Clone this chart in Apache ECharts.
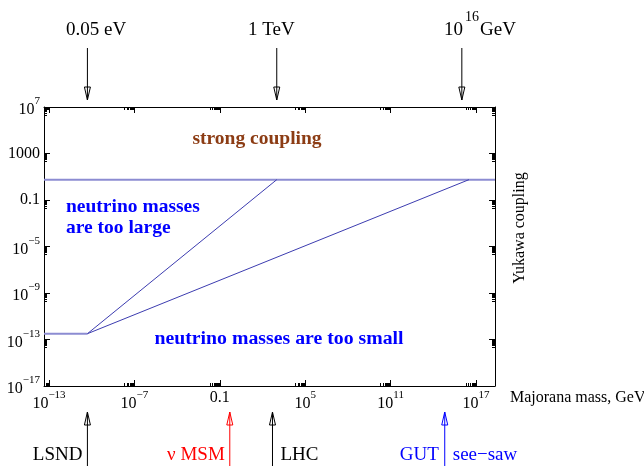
<!DOCTYPE html>
<html>
<head>
<meta charset="utf-8">
<script src="https://cdn.jsdelivr.net/npm/echarts@6/dist/echarts.min.js"></script>
<style>
  html, body { margin: 0; padding: 0; background: #fff; }
  #main { width: 644px; height: 466px; }
</style>
</head>
<body>
<div id="main"></div>
<script>
// values are log10 exponents: x = Majorana mass in GeV, y = Yukawa coupling
var xRange = [-13.35, 18.33];
var yRange = [-17, 7];
var xTicks = [-13, -7, -1, 5, 11, 17];
var yTicks = [-17, -13, -9, -5, -1, 3, 7];

var strongLine = [[-13.35, 0.75], [18.33, 0.75]];
var smallLine = [[-13.35, -12.5], [-10.3, -12.5]];
var largeEdge = [[-10.3, -12.5], [3, 0.75]];
var seesawEdge = [[-10.3, -12.5], [16.5, 0.75]];

var topMarks = [-10.3, 3, 16];            // 0.05 eV, 1 TeV, 10^16 GeV
var bottomMarks = [-10.3, -0.3, 2.7, 14.8]; // LSND, nuMSM, LHC, GUT

var SERIF = '"Liberation Serif", "DejaVu Serif", serif';

// log sub-ticks (2..9) of the decade under each labelled tick
function minorOf(ticks) {
  var out = [];
  ticks.forEach(function (t) {
    for (var k = 2; k <= 9; k++) out.push(t - 1 + Math.log10(k));
  });
  return out;
}
var xMinor = minorOf(xTicks);
var yMinor = minorOf(yTicks);

function expLabel(v) {
  if (v === -1) return '0.1';
  if (v === 3) return '1000';
  return '{b|10}{s|' + String(v).replace('-', '\u2212') + '}';
}
var labelRich = {
  b: { fontSize: 16, fontFamily: SERIF, color: '#000', lineHeight: 22, verticalAlign: 'bottom' },
  s: { fontSize: 11, fontFamily: SERIF, color: '#000', lineHeight: 12, verticalAlign: 'top' }
};

function majorAxis(pos, ticks, showLabel) {
  return {
    type: 'value', gridIndex: 0, position: pos,
    axisLine: { show: true, onZero: false, lineStyle: { color: '#000', width: 1 } },
    axisTick: { show: true, inside: true, length: 6, customValues: ticks, lineStyle: { color: '#000' } },
    axisLabel: {
      show: showLabel, customValues: ticks, formatter: expLabel, rich: labelRich,
      fontSize: 16, fontFamily: SERIF, color: '#000', margin: 4
    },
    splitLine: { show: false }
  };
}
function minorAxis(pos, ticks) {
  return {
    type: 'value', gridIndex: 1, position: pos,
    axisLine: { show: false, onZero: false },
    axisTick: { show: true, inside: true, length: 3, customValues: ticks, lineStyle: { color: '#000' } },
    axisLabel: { show: false },
    splitLine: { show: false }
  };
}

var xAxes = [majorAxis('bottom', xTicks, true), majorAxis('top', xTicks, false),
             minorAxis('bottom', xMinor), minorAxis('top', xMinor)];
var yAxes = [majorAxis('left', yTicks, true), majorAxis('right', yTicks, false),
             minorAxis('left', yMinor), minorAxis('right', yMinor)];
xAxes.forEach(function (a) { a.min = xRange[0]; a.max = xRange[1]; });
yAxes.forEach(function (a) { a.min = yRange[0]; a.max = yRange[1]; a.interval = 4; });

function edge(data, color, width) {
  return {
    type: 'line', data: data, xAxisIndex: 0, yAxisIndex: 0,
    showSymbol: false, silent: true,
    lineStyle: { color: color, width: width }
  };
}

var chart = echarts.init(document.getElementById('main'));
chart.setOption({
  animation: false,
  backgroundColor: '#fff',
  grid: [
    { left: 44, top: 107, width: 451, height: 279 },
    { left: 44, top: 107, width: 451, height: 279 }
  ],
  xAxis: xAxes,
  yAxis: yAxes,
  series: [
    edge(strongLine, '#8c8cd2', 2),
    edge(smallLine, '#8c8cd2', 2),
    edge(largeEdge, '#3c3cb0', 1),
    edge(seesawEdge, '#3c3cb0', 1)
  ]
});

// annotations (arrows and texts) around the frame
function txt(x, y, s, opt) {
  opt = opt || {};
  return {
    type: 'text', x: x, y: y, rotation: opt.rot || 0, silent: true,
    style: {
      text: s, fill: opt.color || '#000',
      fontSize: opt.size || 19, fontFamily: SERIF, fontWeight: opt.bold ? 'bold' : 'normal',
      align: opt.align || 'left', verticalAlign: 'middle'
    }
  };
}
function arrow(x, y0, y1, color) {
  // y1 is the tip; open head drawn as an empty triangle
  var dir = y1 > y0 ? 1 : -1;
  var back = y1 - dir * 13;
  return [
    { type: 'line', silent: true, shape: { x1: x, y1: y0, x2: x, y2: y1 },
      style: { stroke: color, lineWidth: 1 } },
    { type: 'polygon', silent: true,
      shape: { points: [[x - 3, back], [x, y1], [x + 3, back]] },
      style: { stroke: color, fill: 'none', lineWidth: 1 } }
  ];
}

var px = function (v) { return chart.convertToPixel({ xAxisIndex: 0 }, v); };
var g = [];
topMarks.forEach(function (m) { g = g.concat(arrow(px(m), 48, 100, '#000')); });
g.push(txt(66, 30, '0.05 eV'));
g.push(txt(248, 30, '1 TeV'));
g.push(txt(444, 30, '10'));
g.push(txt(465, 17, '16', { size: 14 }));
g.push(txt(480, 30, 'GeV'));

var bColors = ['#000', '#ff0000', '#000', '#0000ff'];
bottomMarks.forEach(function (m, i) { g = g.concat(arrow(px(m), 466, 412, bColors[i])); });
g.push(txt(px(bottomMarks[0]) - 5, 455, 'LSND', { align: 'right' }));
g.push(txt(px(bottomMarks[1]) - 5, 455, '\u03bd MSM', { align: 'right', color: '#ff0000' }));
g.push(txt(px(bottomMarks[2]) + 8, 455, 'LHC'));
g.push(txt(px(bottomMarks[3]) - 6, 455, 'GUT', { align: 'right', color: '#0000ff' }));
g.push(txt(px(bottomMarks[3]) + 8, 455, 'see\u2212saw', { color: '#0000ff' }));

g.push(txt(257, 139, 'strong coupling', { align: 'center', bold: true, color: '#8c3c14', size: 19.5 }));
g.push(txt(66, 207, 'neutrino masses', { bold: true, color: '#0000ff', size: 19.5 }));
g.push(txt(66, 228, 'are too large', { bold: true, color: '#0000ff', size: 19.5 }));
g.push(txt(279, 339, 'neutrino masses are too small', { align: 'center', bold: true, color: '#0000ff', size: 19.8 }));

g.push(txt(510, 398, 'Majorana mass, GeV', { size: 16 }));
g.push(txt(520, 228, 'Yukawa coupling', { size: 16, align: 'center', rot: Math.PI / 2 }));
g.push(txt(643, 455, 'S', { color: '#000' }));

chart.setOption({ graphic: g });
</script>
</body>
</html>
